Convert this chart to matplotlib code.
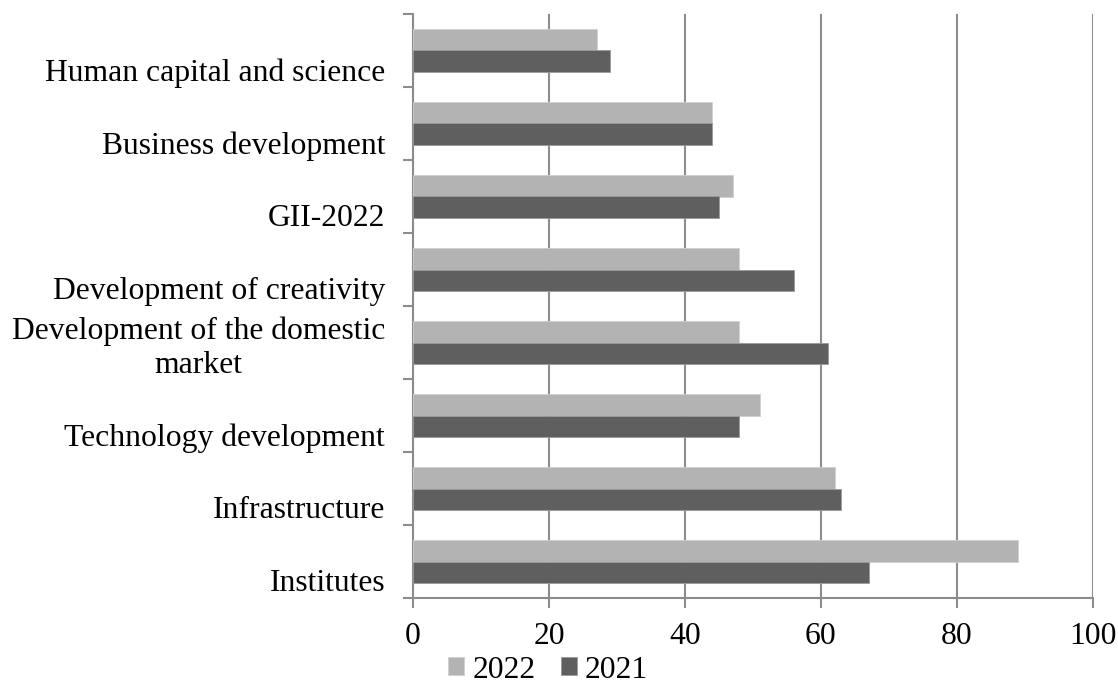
import matplotlib
matplotlib.use("Agg")
import matplotlib.pyplot as plt
import numpy as np
from matplotlib.ticker import FixedLocator

plt.rcParams['font.family'] = ['Liberation Serif', 'DejaVu Serif']

categories = ["Institutes", "Infrastructure", "Technology development",
              "Development of the domestic\nmarket", "Development of creativity",
              "GII-2022", "Business development", "Human capital and science"]
values_2022 = [89, 62, 51, 48, 48, 47, 44, 27]
values_2021 = [67, 63, 48, 61, 56, 45, 44, 29]
series_labels = ["2022", "2021"]
x_ticks = [0, 20, 40, 60, 80, 100]

c22 = "#b3b3b3"
c21 = "#5f5f5f"
gcol = "#8c8c8c"
fs = 22.8

fig = plt.figure(figsize=(11.18, 6.88), dpi=100)
ax = fig.add_axes([413/1118, 1-598/688, (1093-413)/1118, (598-14)/688])

y = np.arange(len(categories))
h = 0.288
ax.barh(y + h/2, values_2022, height=h, color=c22, edgecolor="#d0d0d0", linewidth=0.6,
        label=series_labels[0], zorder=3)
ax.barh(y - h/2, values_2021, height=h, color=c21, edgecolor="#9a9a9a", linewidth=0.6,
        label=series_labels[1], zorder=3)

ax.set_xlim(0, 100)
ax.set_ylim(-0.5, len(categories) - 0.5)
ax.set_xticks(x_ticks)
ax.set_xticklabels([str(t) for t in x_ticks])
ax.set_yticks(y)
# Excel reserves two lines per label; single-line labels sit on the lower line
shown = [c if "\n" in c else "\n" + c for c in categories]
ax.set_yticklabels(shown, multialignment='center')
ax.yaxis.set_minor_locator(FixedLocator(np.arange(-0.5, len(categories), 1.0)))

ax.tick_params(axis='y', which='major', length=0, pad=20, labelsize=fs)
ax.tick_params(axis='y', which='minor', length=7, width=1.5, color=gcol, direction='out')
ax.tick_params(axis='x', which='major', length=7, width=1.5, color=gcol, direction='out',
               pad=10, labelsize=fs)

ax.grid(axis='x', color=gcol, linewidth=1.5, zorder=0)
ax.set_axisbelow(True)
for s in ['top', 'right']:
    ax.spines[s].set_visible(False)
for s in ['left', 'bottom']:
    ax.spines[s].set_color(gcol)
    ax.spines[s].set_linewidth(1.5)

fig.legend(loc='center', bbox_to_anchor=(548/1118, 1-670/688), ncol=2, frameon=False,
           fontsize=fs, handlelength=0.5, handleheight=0.5, handletextpad=0.25,
           columnspacing=0.8, borderpad=0)

fig.savefig("out.png", dpi=100)
